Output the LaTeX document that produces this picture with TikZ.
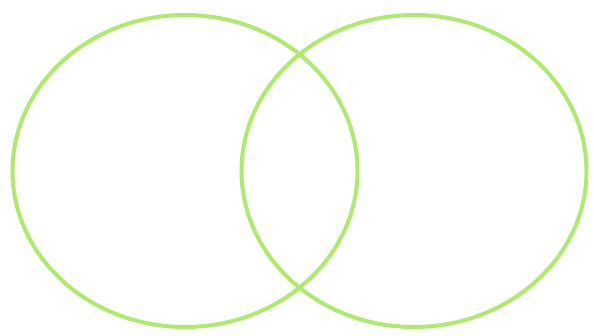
\documentclass[tikz,border=0pt]{standalone}
\definecolor{ringgreen}{RGB}{174,234,108}
\begin{document}
\begin{tikzpicture}[x=1pt,y=-1pt,ring/.style={draw=ringgreen,line width=4pt}]
\useasboundingbox (0,0) rectangle (594,336);
\draw[ring] (185,171) ellipse [x radius=172.5, y radius=156];
\draw[ring] (414,171) ellipse [x radius=172.5, y radius=156];
\end{tikzpicture}
\end{document}
